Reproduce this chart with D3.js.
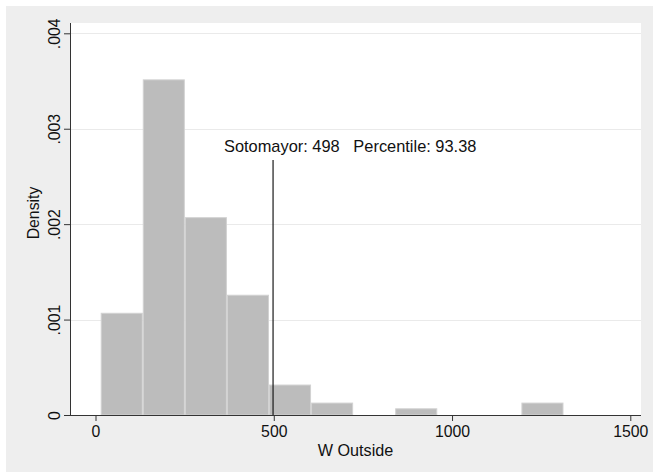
<!DOCTYPE html>
<html>
<head>
<meta charset="utf-8">
<script src="https://cdn.jsdelivr.net/npm/d3@7/dist/d3.min.js"></script>
<style>
  html, body { margin: 0; padding: 0; background: #ffffff; }
  svg { display: block; font-family: "Liberation Sans", Arial, sans-serif; }
</style>
</head>
<body>
<svg id="chart" width="653" height="473"></svg>
<script>
// ---- data ----
const binEdges = [14.6, 132.6, 250.6, 368.6, 486.6, 604.6, 722.6, 840.6, 958.6, 1076.6, 1194.6, 1312.6];
const densities = [0.001066, 0.003512, 0.002068, 0.001255, 0.000314, 0.000125, 0, 0.000065, 0, 0, 0.000125];
const xTicks = [0, 500, 1000, 1500];
const xTickLabels = ["0", "500", "1000", "1500"];
const yTicks = [0, 0.001, 0.002, 0.003, 0.004];
const yTickLabels = ["0", ".001", ".002", ".003", ".004"];
const markerValue = 498;
const markerLabel = "Sotomayor: 498   Percentile: 93.38";
const xTitle = "W Outside";
const yTitle = "Density";

// ---- layout ----
const W = 653, H = 473;
const plot = { left: 70, right: 641, top: 23, bottom: 415 };

const svg = d3.select("#chart");

// outer graph region
svg.append("rect").attr("x", 6).attr("y", 6).attr("width", W - 6).attr("height", 466)
  .attr("fill", "#eeeeee");
// plot region
svg.append("rect").attr("x", plot.left).attr("y", plot.top)
  .attr("width", plot.right - plot.left).attr("height", plot.bottom - plot.top)
  .attr("fill", "#ffffff");

const x = d3.scaleLinear().domain([0, 1500]).range([95.5, 630.3]);
const y = d3.scaleLinear().domain([0, 0.004]).range([plot.bottom, 33.3]);

// gridlines
svg.append("g").selectAll("line").data(yTicks.slice(1)).join("line")
  .attr("x1", plot.left).attr("x2", plot.right)
  .attr("y1", d => Math.round(y(d)) + 0.5).attr("y2", d => Math.round(y(d)) + 0.5)
  .attr("stroke", "#eaeaea").attr("stroke-width", 1.2);

// bars
const bins = densities.map((d, i) => ({ x0: binEdges[i], x1: binEdges[i + 1], d }));
svg.append("g").selectAll("rect").data(bins.filter(b => b.d > 0)).join("rect")
  .attr("x", b => x(b.x0) + 0.5)
  .attr("width", b => x(b.x1) - x(b.x0) - 1)
  .attr("y", b => y(b.d))
  .attr("height", b => y(0) - y(b.d))
  .attr("fill", "#bcbcbc")
  .attr("stroke", "#d2d2d2")
  .attr("stroke-width", 1);

// marker line
svg.append("line")
  .attr("x1", x(markerValue)).attr("x2", x(markerValue))
  .attr("y1", 160).attr("y2", plot.bottom)
  .attr("stroke", "#1a1a1a").attr("stroke-width", 1.2);

svg.append("text").attr("x", 224).attr("y", 152)
  .attr("font-size", 16.4).attr("fill", "#111")
  .attr("xml:space", "preserve").style("white-space", "pre")
  .text(markerLabel);

// axes
const xAxis = d3.axisBottom(x).tickValues(xTicks).tickFormat((d, i) => xTickLabels[i])
  .tickSizeOuter(0).tickSize(6).tickPadding(5);
const gx = svg.append("g").attr("transform", `translate(0,${plot.bottom})`).call(xAxis);
gx.select(".domain").remove();
gx.append("line").attr("x1", plot.left).attr("x2", plot.right).attr("y1", 0.5).attr("y2", 0.5)
  .attr("stroke", "#333");
gx.selectAll(".tick line").attr("stroke", "#333");
gx.selectAll(".tick text").attr("font-size", 15.8).attr("fill", "#111")
  .attr("font-family", "Liberation Sans, Arial, sans-serif");

const yAxis = d3.axisLeft(y).tickValues(yTicks).tickFormat((d, i) => yTickLabels[i])
  .tickSizeOuter(0).tickSize(6).tickPadding(4);
const gy = svg.append("g").attr("transform", `translate(${plot.left},0)`).call(yAxis);
gy.select(".domain").remove();
gy.append("line").attr("x1", 0.5).attr("x2", 0.5).attr("y1", plot.top).attr("y2", plot.bottom)
  .attr("stroke", "#333");
gy.selectAll(".tick line").attr("stroke", "#333");
gy.selectAll(".tick text")
  .attr("font-size", 15.8).attr("fill", "#111")
  .attr("font-family", "Liberation Sans, Arial, sans-serif")
  .attr("x", null).attr("dy", null)
  .attr("text-anchor", "middle")
  .attr("transform", "translate(-10,0) rotate(-90)");

// axis titles
svg.append("text").attr("x", 355.5).attr("y", 456).attr("text-anchor", "middle")
  .attr("font-size", 16.2).attr("fill", "#111").text(xTitle);
svg.append("text").attr("transform", "translate(39,213) rotate(-90)").attr("text-anchor", "middle")
  .attr("font-size", 15.8).attr("fill", "#111").text(yTitle);
</script>
</body>
</html>
